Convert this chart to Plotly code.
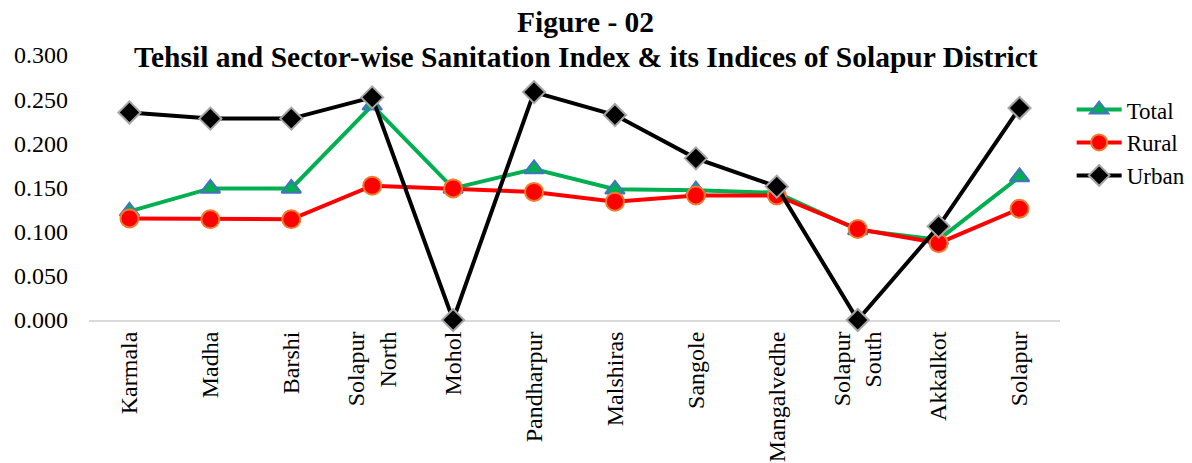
import plotly.graph_objects as go

# Tehsils (and the district total) along the x axis
tehsils = ["Karmala", "Madha", "Barshi", "Solapur<br>North", "Mohol", "Pandharpur",
           "Malshiras", "Sangole", "Mangalvedhe", "Solapur<br>South", "Akkalkot", "Solapur"]

# Sanitation index by sector
total = [0.123, 0.149, 0.149, 0.243, 0.149, 0.171, 0.148, 0.147, 0.144, 0.102, 0.091, 0.162]
rural = [0.115, 0.114, 0.114, 0.152, 0.149, 0.145, 0.134, 0.141, 0.141, 0.103, 0.087, 0.126]
urban = [0.235, 0.228, 0.228, 0.252, 0.000, 0.258, 0.232, 0.183, 0.151, 0.000, 0.106, 0.240]

y_ticks = [0.0, 0.05, 0.10, 0.15, 0.20, 0.25, 0.30]

FONT = "Liberation Serif, Times New Roman, serif"

fig = go.Figure()
fig.add_trace(go.Scatter(
    x=tehsils, y=total, name="Total", mode="lines+markers", cliponaxis=False,
    line=dict(color="#00B050", width=4),
    marker=dict(symbol="triangle-up", size=17, color="#00B050",
                line=dict(color="#4472C4", width=2)),
))
fig.add_trace(go.Scatter(
    x=tehsils, y=rural, name="Rural", mode="lines+markers", cliponaxis=False,
    line=dict(color="#FF0000", width=4),
    marker=dict(symbol="circle", size=18, color="#FF0000",
                line=dict(color="#ED7D31", width=2)),
))
fig.add_trace(go.Scatter(
    x=tehsils, y=urban, name="Urban", mode="lines+markers", cliponaxis=False,
    line=dict(color="#000000", width=4),
    marker=dict(symbol="diamond", size=17, color="#000000",
                line=dict(color="#A5A5A5", width=2)),
))

fig.update_layout(
    width=1192, height=463,
    margin=dict(l=89, r=132, t=55, b=143, autoexpand=False),
    paper_bgcolor="white", plot_bgcolor="white",
    font=dict(family=FONT, size=24, color="black"),
    showlegend=True,
    legend=dict(x=1.012, y=0.875, xanchor="left", yanchor="top",
                font=dict(family=FONT, size=23, color="black"),
                bgcolor="rgba(0,0,0,0)", tracegroupgap=0, itemwidth=45),
    annotations=[
        dict(text="<b>Figure - 02</b>", xref="paper", yref="paper",
             x=0.511, y=1.124, xanchor="center", yanchor="middle",
             showarrow=False, font=dict(family=FONT, size=29.5, color="black")),
        dict(text="<b>Tehsil and Sector-wise Sanitation Index &amp; its Indices of Solapur District</b>",
             xref="paper", yref="paper",
             x=0.512, y=0.992, xanchor="center", yanchor="middle",
             showarrow=False, font=dict(family=FONT, size=29.5, color="black")),
    ],
)

fig.update_xaxes(
    type="category", range=[-0.5, len(tehsils) - 0.5],
    showgrid=False, showline=True, linecolor="#D9D9D9", linewidth=2,
    ticks="", tickangle=-90, tickfont=dict(family=FONT, size=24, color="black"),
    zeroline=False, layer="below traces", automargin=False,
)
fig.update_yaxes(
    range=[0, 0.3], tickvals=y_ticks, tickformat=".3f",
    showgrid=False, zeroline=False, showline=False, ticks="",
    tickfont=dict(family=FONT, size=24, color="black"),
    ticklabelstandoff=20, automargin=False,
)

fig.write_html("out.html")
